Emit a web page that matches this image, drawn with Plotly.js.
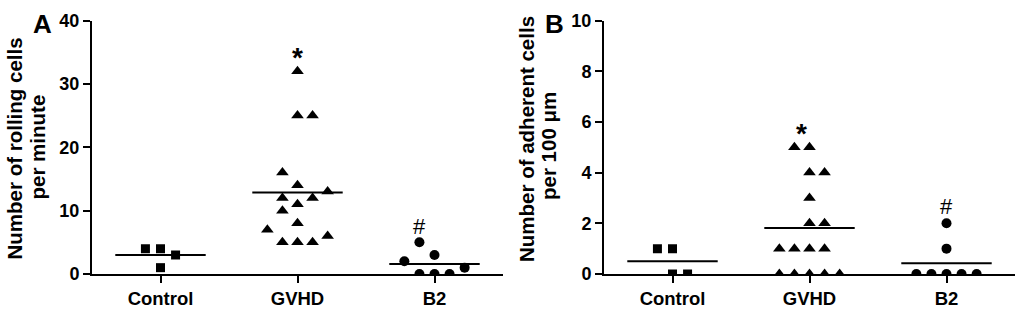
<!DOCTYPE html>
<html>
<head>
<meta charset="utf-8">
<script src="https://cdn.plot.ly/plotly-3.0.1.min.js"></script>
<style>
  html, body { margin: 0; padding: 0; background: #fff; }
  #plot { width: 1024px; height: 309px; }
</style>
</head>
<body>
<div id="plot"></div>
<script>
// groups on the x axis
var categories = ['Control', 'GVHD', 'B2'];

// panel A: rolling cells per minute, each value with its column slot in the dot plot
var rollControl = [4, 4, 3, 1];
var rollControlSlot = [-1, 0, 1, 0];
var rollGvhd = [32, 25, 25, 16, 14, 13, 12, 12, 11, 10, 8, 7, 6, 5, 5, 5];
var rollGvhdSlot = [0, 0, 1, -1, 0, 2, -1, 1, 0, -1, 0, -2, 2, -1, 0, 1];
var rollB2 = [2, 5, 3, 0, 0, 0, 1];
var rollB2Slot = [-2, -1, 0, -1, 0, 1, 2];

// panel B: adherent cells per 100 um
var adhControl = [1, 1, 0, 0];
var adhControlSlot = [-1, 0, 0, 1];
var adhGvhd = [5, 5, 4, 4, 3, 2, 2, 1, 1, 1, 1, 0, 0, 0, 0, 0];
var adhGvhdSlot = [-1, 0, 0, 1, 0, 0, 1, -2, -1, 0, 1, -2, -1, 0, 1, 2];
var adhB2 = [2, 1, 0, 0, 0, 0, 0];
var adhB2Slot = [0, 0, -2, -1, 0, 1, 2];

var rollTicks = [0, 10, 20, 30, 40];
var adhTicks = [0, 2, 4, 6, 8, 10];

var rollTitle = ['Number of rolling cells', 'per minute'];
var adhTitle = ['Number of adherent cells', 'per 100 \u03bcm'];

var SLOT = 0.11;      // width of one dot column in category units
var HALF = 0.33;      // half length of the mean bar
var FONT = '"Liberation Sans", Arial, sans-serif';

var symbols = ['square', 'triangle-up', 'circle'];
var sizes = [9, 11, 10];

function mean(a) {
    return a.reduce(function (s, v) { return s + v; }, 0) / a.length;
}

function groupTraces(vals, slots, gi, xa, ya) {
    var xs = slots.map(function (s) { return gi + s * SLOT; });
    var m = mean(vals);
    return [
        {
            x: xs, y: vals, xaxis: xa, yaxis: ya,
            type: 'scatter', mode: 'markers',
            marker: { symbol: symbols[gi], size: sizes[gi], color: '#000' },
            hoverinfo: 'y', showlegend: false
        },
        {
            x: [gi - HALF, gi + HALF], y: [m, m], xaxis: xa, yaxis: ya,
            type: 'scatter', mode: 'lines',
            line: { color: '#000', width: 2 },
            hoverinfo: 'skip', showlegend: false
        }
    ];
}

var data = [].concat(
    groupTraces(rollControl, rollControlSlot, 0, 'x', 'y'),
    groupTraces(rollGvhd, rollGvhdSlot, 1, 'x', 'y'),
    groupTraces(rollB2, rollB2Slot, 2, 'x', 'y'),
    groupTraces(adhControl, adhControlSlot, 0, 'x2', 'y2'),
    groupTraces(adhGvhd, adhGvhdSlot, 1, 'x2', 'y2'),
    groupTraces(adhB2, adhB2Slot, 2, 'x2', 'y2')
);

function xAxis(domain, anchor) {
    return {
        domain: domain, anchor: anchor,
        range: [-0.5, 2.5],
        tickvals: [0, 1, 2], ticktext: categories,
        ticks: 'outside', ticklen: 7, tickwidth: 2, tickcolor: '#000',
        showline: true, linewidth: 2, linecolor: '#000',
        showgrid: false, zeroline: false,
        tickfont: { family: FONT, size: 18.5, color: '#000', weight: 'bold' }
    };
}

function yAxis(domain, anchor, range, ticks) {
    return {
        domain: domain, anchor: anchor,
        range: range,
        tickvals: ticks,
        ticks: 'outside', ticklen: 7, tickwidth: 2, tickcolor: '#000',
        showline: true, linewidth: 2, linecolor: '#000',
        showgrid: false, zeroline: false,
        tickfont: { family: FONT, size: 18, color: '#000', weight: 'bold' }
    };
}

// paper annotation placed by its centre in pixels
function paperText(text, xpx, ypx, size, angle) {
    return {
        text: text, xref: 'paper', yref: 'paper',
        x: xpx / 1024, y: 1 - ypx / 309,
        xanchor: 'center', yanchor: 'middle', textangle: angle || 0,
        showarrow: false,
        font: { family: FONT, size: size, color: '#000', weight: 'bold' }
    };
}

function mark(text, xa, ya, x, y, size, bold) {
    return {
        text: text, xref: xa, yref: ya, x: x, y: y, showarrow: false,
        xanchor: 'center', yanchor: 'middle',
        font: { family: FONT, size: size, color: '#000', weight: bold ? 'bold' : 'normal' }
    };
}

var yDom = [1 - 274 / 309, 1 - 20.5 / 309];

var layout = {
    width: 1024, height: 309,
    margin: { l: 0, r: 0, t: 0, b: 0 },
    paper_bgcolor: '#fff', plot_bgcolor: '#fff',
    showlegend: false,
    xaxis: xAxis([92 / 1024, 503 / 1024], 'y'),
    yaxis: yAxis(yDom, 'x', [0, 40], rollTicks),
    xaxis2: xAxis([604 / 1024, 1015 / 1024], 'y2'),
    yaxis2: yAxis(yDom, 'x2', [0, 10], adhTicks),
    annotations: [
        paperText(rollTitle[0], 14, 148.5, 20.5, -90),
        paperText(rollTitle[1], 37, 147.5, 20.5, -90),
        paperText(adhTitle[0], 526, 139, 20.5, -90),
        paperText(adhTitle[1], 549, 146, 20.5, -90),
        paperText('A', 42.5, 24, 26),
        paperText('B', 554, 24, 26),
        mark('*', 'x', 'y', 1, 34.2, 28, true),
        mark('#', 'x', 'y', 2 - SLOT, 7.5, 22, false),
        mark('*', 'x2', 'y2', 1 - SLOT / 2, 5.55, 28, true),
        mark('#', 'x2', 'y2', 2, 2.65, 22, false)
    ]
};

Plotly.newPlot('plot', data, layout, { staticPlot: true, displayModeBar: false });
</script>
</body>
</html>
